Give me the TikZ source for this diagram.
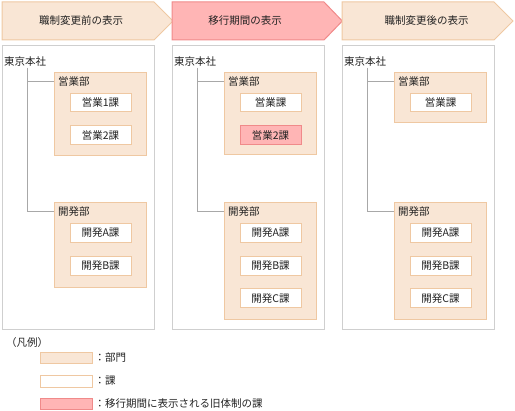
\documentclass[tikz,border=0pt]{standalone}
\usepackage{fontspec}
\setmainfont{Noto Sans CJK JP}
\definecolor{beige}{HTML}{F9E6D5}
\definecolor{beigeline}{HTML}{EFC8A2}
\definecolor{pinkfill}{HTML}{FFB5B5}
\definecolor{pinkline}{HTML}{F08A8A}
\definecolor{panelline}{HTML}{CFCFCF}
\definecolor{treeline}{HTML}{A8A8A8}
\definecolor{txt}{HTML}{222222}
\tikzset{
  every node/.style={font=\fontsize{10.5}{12}\selectfont, text=txt},
  hdr/.style={fill=beige, draw=beigeline, line width=1pt},
  hdrpink/.style={fill=pinkfill, draw=pinkline, line width=1pt},
  panel/.style={draw=panelline, fill=white, line width=1pt, inner sep=0pt, anchor=north west, minimum width=152, minimum height=284},
  dept/.style={draw=beigeline, fill=beige, line width=1pt, inner sep=0pt, anchor=north west, minimum width=92},
  sect/.style={draw=beigeline, fill=white, line width=1pt, inner sep=0pt, minimum width=61, minimum height=18.5},
  oldsect/.style={draw=pinkline, fill=pinkfill, line width=1pt, inner sep=0pt, minimum width=61, minimum height=18.5},
  lbl/.style={inner sep=0pt, anchor=west},
  tree/.style={draw=treeline, line width=1pt},
  legbox/.style={line width=1pt, inner sep=0pt, anchor=north west, minimum width=52, minimum height=11.6},
}
\begin{document}
\begin{tikzpicture}[x=1pt,y=-1pt]
\useasboundingbox (0,0) rectangle (515,411);
% header arrows
\draw[hdr] (2,2) -- (154,2) -- (173,21) -- (154,40) -- (2,40) -- cycle;
\node (h1) at (81,21) {職制変更前の表示};
\draw[hdrpink] (172,2) -- (324,2) -- (342.3,21) -- (324,40) -- (172,40) -- cycle;
\node (h2) at (245,21) {移行期間の表示};
\draw[hdr] (342,2) -- (494,2) -- (513,21) -- (494,40) -- (342,40) -- cycle;
\node (h3) at (426.5,21) {職制変更後の表示};

% panels
\node[panel] (p1) at (2,45) {};
\node[panel] (p2) at (172,45) {};
\node[panel] (p3) at (342,45) {};

% ---------- panel 1 ----------
\node[lbl] (hq1) at (4,62) {東京本社};
\node[dept, minimum height=83.3] (e1) at (54,71.7) {};
\node[lbl] (e1l) at (58,81.7) {営業部};
\node[sect] (e1a) at (100.5,102.5) {営業1課};
\node[sect] (e1b) at (100.5,135.2) {営業2課};
\node[dept, minimum height=85.6] (k1) at (54,201.7) {};
\node[lbl] (k1l) at (58,211.7) {開発部};
\node[sect, minimum height=19] (k1a) at (100.5,232.8) {開発A課};
\node[sect, minimum height=19] (k1b) at (100.5,265.6) {開発B課};
\coordinate (t1) at (27,68);
\draw[tree] (t1) |- (k1l.west -| k1.west);
\draw[tree] (t1) |- (e1l.west -| e1.west);

% ---------- panel 2 ----------
\node[lbl] (hq2) at (174,62) {東京本社};
\node[dept, minimum height=82.3] (e2) at (224,71.7) {};
\node[lbl] (e2l) at (228,81.7) {営業部};
\node[sect] (e2a) at (270.5,102.5) {営業課};
\node[oldsect] (e2b) at (270.5,135.2) {営業2課};
\node[dept, minimum height=117.6] (k2) at (224,201.7) {};
\node[lbl] (k2l) at (228,211.7) {開発部};
\node[sect, minimum height=19] (k2a) at (270.5,232.8) {開発A課};
\node[sect, minimum height=19] (k2b) at (270.5,265.6) {開発B課};
\node[sect, minimum height=19] (k2c) at (270.5,298.1) {開発C課};
\coordinate (t2) at (197,68);
\draw[tree] (t2) |- (k2l.west -| k2.west);
\draw[tree] (t2) |- (e2l.west -| e2.west);

% ---------- panel 3 ----------
\node[lbl] (hq3) at (344,62) {東京本社};
\node[dept, minimum height=50.6] (e3) at (394,71.7) {};
\node[lbl] (e3l) at (398,81.7) {営業部};
\node[sect] (e3a) at (440.5,102.5) {営業課};
\node[dept, minimum height=117.6] (k3) at (394,201.7) {};
\node[lbl] (k3l) at (398,211.7) {開発部};
\node[sect, minimum height=19] (k3a) at (440.5,232.8) {開発A課};
\node[sect, minimum height=19] (k3b) at (440.5,265.6) {開発B課};
\node[sect, minimum height=19] (k3c) at (440.5,298.1) {開発C課};
\coordinate (t3) at (367,68);
\draw[tree] (t3) |- (k3l.west -| k3.west);
\draw[tree] (t3) |- (e3l.west -| e3.west);

% ---------- legend ----------
\node[lbl] (leg) at (6,343) {（凡例）};
\node[legbox, draw=beigeline, fill=beige] (lb1) at (40,351.7) {};
\node[lbl] (lt1) at (94.5,357.5) {：部門};
\node[legbox, draw=beigeline, fill=white] (lb2) at (40,375) {};
\node[lbl] (lt2) at (94.5,381) {：課};
\node[legbox, draw=pinkline, fill=pinkfill] (lb3) at (40,397.7) {};
\node[lbl] (lt3) at (94.5,403.5) {：移行期間に表示される旧体制の課};
\end{tikzpicture}
\end{document}
